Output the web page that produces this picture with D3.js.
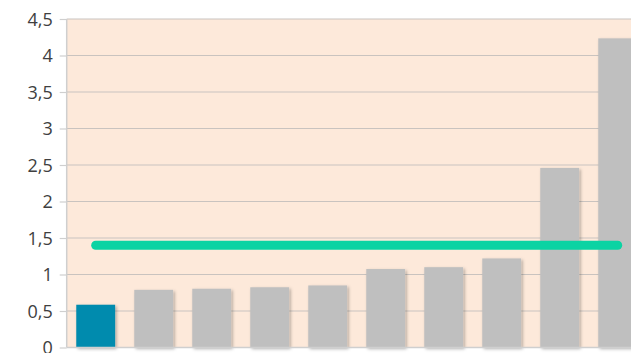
<!DOCTYPE html>
<html>
<head>
<meta charset="utf-8">
<script src="https://cdn.jsdelivr.net/npm/d3@7"></script>
<style>
  html, body { margin: 0; padding: 0; background: #fff; overflow: hidden; }
  .tick text { font-family: "Open Sans", "DejaVu Sans", sans-serif; }
</style>
</head>
<body>
<svg id="chart"></svg>
<script>
// values
var categories = ["A", "B", "C", "D", "E", "F", "G", "H", "I", "J"];
var values = [0.586, 0.79, 0.805, 0.825, 0.85, 1.075, 1.10, 1.22, 2.46, 4.235];
var highlight = [true, false, false, false, false, false, false, false, false, false];
var targetValue = 1.4;
var yTicks = [0, 0.5, 1, 1.5, 2, 2.5, 3, 3.5, 4, 4.5];

var width = 631, height = 353;
var plotLeft = 66.7, plotTop = 19, plotBottom = 347.5;
var plotRight = 646.7; // plot runs past the window edge

var svg = d3.select("#chart").attr("width", width).attr("height", height);

// soft shadow under the bars
var defs = svg.append("defs");
defs.append("filter").attr("id", "shadow")
    .attr("x", "-20%").attr("y", "-5%").attr("width", "150%").attr("height", "115%")
  .append("feDropShadow")
    .attr("dx", 1.5).attr("dy", 1.5).attr("stdDeviation", 1.6)
    .attr("flood-color", "#000").attr("flood-opacity", 0.3);

var x = d3.scaleBand()
    .domain(categories)
    .range([plotLeft, plotRight])
    .paddingInner(0.33)
    .paddingOuter(0.165);

var y = d3.scaleLinear()
    .domain([0, 4.5])
    .range([plotBottom, plotTop]);

// plot background
svg.append("rect")
    .attr("x", plotLeft).attr("y", plotTop)
    .attr("width", plotRight - plotLeft).attr("height", plotBottom - plotTop)
    .attr("fill", "#fde9da");

// gridlines
svg.append("g").selectAll("line")
    .data(yTicks.slice(1))
    .enter().append("line")
    .attr("x1", plotLeft).attr("x2", plotRight)
    .attr("y1", function (d) { return y(d); })
    .attr("y2", function (d) { return y(d); })
    .attr("stroke", "#c9c3bf").attr("stroke-width", 1.2);

// y axis
var yAxis = d3.axisLeft(y)
    .tickValues(yTicks)
    .tickSize(7)
    .tickPadding(7)
    .tickFormat(function (d) { return String(d).replace(".", ","); });

var gy = svg.append("g")
    .attr("transform", "translate(" + plotLeft + ",0)")
    .call(yAxis);
gy.select(".domain").remove();
gy.selectAll(".tick line").attr("stroke", "#cfcfcf").attr("stroke-width", 1.2);
gy.selectAll(".tick text")
    .attr("fill", "#404040")
    .style("font-size", "18px")
    .attr("dy", "0.36em");
svg.append("line")
    .attr("x1", plotLeft).attr("x2", plotLeft)
    .attr("y1", plotTop).attr("y2", plotBottom)
    .attr("stroke", "#cfcfcf").attr("stroke-width", 1.5);

// bars
svg.append("g").selectAll("rect")
    .data(values)
    .enter().append("rect")
    .attr("x", function (d, i) { return x(categories[i]); })
    .attr("y", function (d) { return y(d); })
    .attr("width", x.bandwidth())
    .attr("height", function (d) { return y(0) - y(d); })
    .attr("fill", function (d, i) { return highlight[i] ? "#018bae" : "#bfbfbf"; })
    .attr("filter", "url(#shadow)");

// x axis line
svg.append("line")
    .attr("x1", plotLeft).attr("x2", plotRight)
    .attr("y1", plotBottom).attr("y2", plotBottom)
    .attr("stroke", "#cfcfcf").attr("stroke-width", 1.5);

// target line
var line = d3.line()
    .x(function (d) { return x(d) + x.bandwidth() / 2; })
    .y(function () { return y(targetValue); });

svg.append("path")
    .datum([categories[0], categories[categories.length - 1]])
    .attr("d", line)
    .attr("fill", "none")
    .attr("stroke", "#0bd3a3")
    .attr("stroke-width", 9)
    .attr("stroke-linecap", "round");
</script>
</body>
</html>
